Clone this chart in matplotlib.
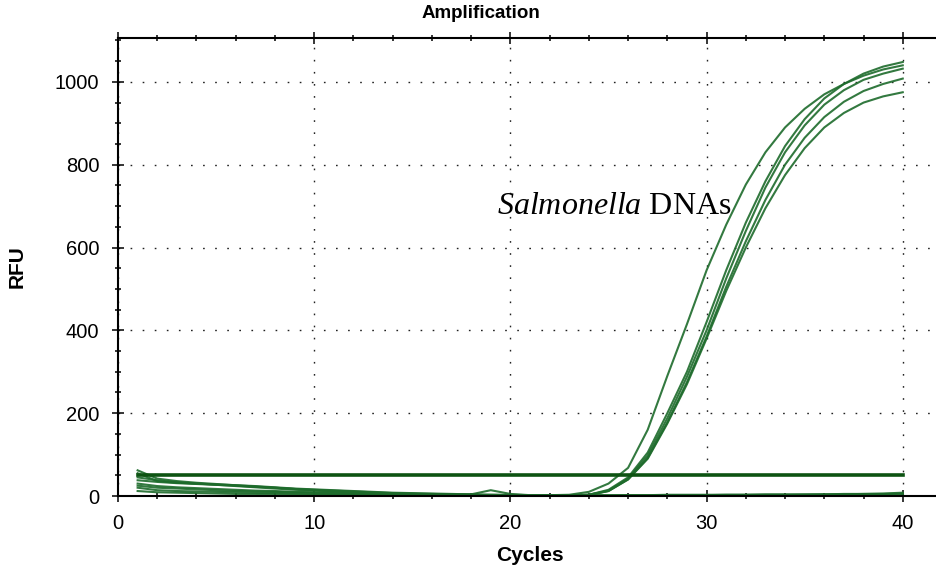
import numpy as np
import matplotlib
matplotlib.use("Agg")
import matplotlib.pyplot as plt
from matplotlib.ticker import MultipleLocator

cycles = list(range(1, 41))

# amplification curves (RFU per cycle)
pos_early = [45, 38, 33, 30, 27, 24, 21, 18, 15, 13, 11, 9, 7, 6, 5, 4, 3, 3, 2, 2,
             2, 2, 3, 10, 30, 68, 160, 290, 415, 545, 655, 752, 830, 890, 935, 970, 995, 1015, 1030, 1040]
pos_b1 = [38, 34, 31, 29, 27, 25, 22, 20, 17, 15, 13, 11, 9, 7, 6, 5, 4, 3, 3, 2,
          2, 2, 2, 3, 15, 45, 105, 200, 300, 420, 545, 660, 760, 845, 910, 960, 995, 1020, 1037, 1048]
pos_b2 = [30, 24, 21, 19, 17, 15, 13, 12, 10, 9, 8, 7, 6, 5, 4, 3, 3, 2, 2, 2,
          2, 1, 1, 3, 13, 42, 98, 188, 288, 400, 525, 640, 745, 830, 895, 945, 980, 1005, 1020, 1032]
pos_b3 = [55, 36, 32, 30, 28, 26, 24, 21, 18, 16, 14, 12, 10, 8, 7, 6, 5, 4, 3, 3,
          2, 2, 2, 3, 12, 40, 92, 178, 275, 385, 505, 615, 715, 800, 865, 915, 952, 978, 995, 1008]
pos_late = [25, 20, 18, 16, 14, 12, 11, 10, 9, 8, 7, 6, 5, 4, 4, 3, 3, 2, 2, 2,
            2, 1, 1, 2, 12, 40, 90, 175, 270, 380, 495, 600, 695, 775, 840, 890, 925, 950, 965, 975]

# negative controls
neg_1 = [62, 42, 36, 32, 29, 26, 23, 20, 17, 14, 12, 10, 8, 6, 5, 4, 3, 4, 14, 5,
         2, 2, 2, 2, 2, 2, 2, 3, 3, 3, 3, 3, 4, 4, 4, 4, 5, 5, 6, 8]
neg_2 = [20, 14, 12, 11, 10, 9, 8, 7, 6, 5, 4, 4, 3, 3, 2, 2, 2, 2, 2, 2,
         1, 1, 1, 1, 1, 2, 2, 2, 2, 2, 3, 3, 3, 3, 3, 4, 4, 5, 5, 6]
neg_3 = [12, 9, 8, 7, 6, 5, 5, 4, 4, 3, 3, 3, 2, 2, 2, 2, 1, 1, 1, 1,
         1, 1, 1, 1, 1, 1, 1, 1, 2, 2, 2, 2, 2, 2, 3, 3, 3, 3, 4, 4]

threshold = 50

plt.rcParams['font.family'] = ['Liberation Sans', 'DejaVu Sans']
plt.rcParams['mathtext.fontset'] = 'custom'
plt.rcParams['mathtext.it'] = 'Liberation Serif:italic'
plt.rcParams['mathtext.rm'] = 'Liberation Serif'

fig = plt.figure(figsize=(9.36, 5.76), dpi=100)
ax = fig.add_axes([118 / 936, 80 / 576, 824 / 936, 458 / 576])

green = '#1d6b2b'
for y in [neg_1, neg_2, neg_3]:
    ax.plot(cycles, y, color=green, lw=1.5, alpha=0.9)
for y in [pos_early, pos_b1, pos_b2, pos_b3, pos_late]:
    ax.plot(cycles, y, color=green, lw=1.5, alpha=0.9)
ax.plot([cycles[0], cycles[-1]], [threshold, threshold], color='#0d5312', lw=2.6)

ax.set_xlim(0, 42)
ax.set_ylim(0, 1106)
ax.xaxis.set_major_locator(MultipleLocator(10))
ax.xaxis.set_minor_locator(MultipleLocator(2))
ax.yaxis.set_major_locator(MultipleLocator(200))
ax.yaxis.set_minor_locator(MultipleLocator(50))
ax.tick_params(which='both', direction='inout', top=True, right=True, width=1.1, color='black')
ax.tick_params(which='major', length=8, labelsize=14.5)
ax.tick_params(which='minor', length=5)
ax.tick_params(axis='x', which='major', pad=9)
ax.tick_params(axis='y', which='major', pad=9.5)
for s in ax.spines.values():
    s.set_linewidth(1.5)

ax.grid(True, which='major', color='#222222', lw=1.0, linestyle=(0, (1.2, 7.5)))

ax.set_xlabel('Cycles', fontsize=15, fontweight='bold', labelpad=9)
ax.set_ylabel('RFU', fontsize=15, fontweight='bold', labelpad=20)
fig.text(481 / 936, 1 - 14 / 576, 'Amplification', fontsize=13.5, fontweight='bold',
         ha='center', va='center')

ax.text(19.3, 700, r'$\mathit{Salmonella}$ DNAs', family='Liberation Serif',
        fontsize=23, ha='left', va='center')

fig.savefig('out.png', dpi=100)
